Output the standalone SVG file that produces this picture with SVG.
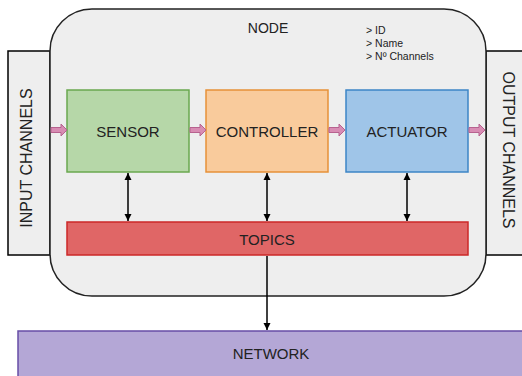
<svg xmlns="http://www.w3.org/2000/svg" width="522" height="376" viewBox="0 0 522 376">
<defs>
<marker id="ah" viewBox="0 0 10 10" refX="10" refY="5" markerWidth="7" markerHeight="8" orient="auto-start-reverse" markerUnits="userSpaceOnUse">
<path d="M0,0 L10,5 L0,10 z" fill="#000"/>
</marker>
<style>
text{font-family:"Liberation Sans",Arial,sans-serif;fill:#222;}
.lbl{font-size:15px;text-anchor:middle;dominant-baseline:central;}
.vl{font-size:16px;}
.ch{fill:#eeeeee;stroke:#000;stroke-width:1.5;}
.pk{fill:#d88cb3;stroke:#b7628f;stroke-width:1;}
.cn{stroke:#000;stroke-width:1.5;fill:none;}
.info{font-size:10.5px;}
</style>
</defs>
<rect width="522" height="376" fill="#fff"/>
<g id="input-channels">
<rect class="ch" x="8" y="51" width="42" height="204"/>
<text class="lbl vl" transform="translate(26,158) rotate(-90)">INPUT CHANNELS</text>
</g>
<g id="output-channels">
<rect class="ch" x="486" y="51" width="40" height="204"/>
<text class="lbl vl" transform="translate(508,150) rotate(90)">OUTPUT CHANNELS</text>
</g>
<g id="node">
<rect x="50" y="9" width="436" height="287" rx="42" ry="42" fill="#eeeeee" stroke="#222" stroke-width="1.5"/>
<text class="lbl" x="268" y="28" style="font-size:14px">NODE</text>
<text class="info" x="366" y="34">&gt; ID</text>
<text class="info" x="366" y="47">&gt; Name</text>
<text class="info" x="366" y="60">&gt; Nº Channels</text>
</g>
<g id="sensor">
<rect x="67" y="90" width="122" height="82" fill="#b6d7a8" stroke="#6aa84f" stroke-width="1.5"/>
<text class="lbl" x="128" y="131">SENSOR</text>
</g>
<g id="controller">
<rect x="206" y="90" width="122" height="82" fill="#f9cb9c" stroke="#e69138" stroke-width="1.5"/>
<text class="lbl" x="267" y="131">CONTROLLER</text>
</g>
<g id="actuator">
<rect x="346" y="90" width="122" height="82" fill="#9fc5e8" stroke="#3d85c6" stroke-width="1.5"/>
<text class="lbl" x="407" y="131">ACTUATOR</text>
</g>
<g id="topics">
<rect x="67" y="222" width="401" height="33" fill="#e06666" stroke="#cc2929" stroke-width="1.5"/>
<text class="lbl" x="267" y="239">TOPICS</text>
</g>
<g id="network">
<rect x="18" y="331" width="510" height="50" fill="#b4a7d6" stroke="#674ea7" stroke-width="1.5"/>
<text class="lbl" x="271" y="353">NETWORK</text>
</g>
<g id="connectors">
<path class="pk" d="M51,127.5 H61 V124 L67,130 L61,136 V132.5 H51 Z"/>
<path class="pk" d="M190,127.5 H200 V124 L206,130 L200,136 V132.5 H190 Z"/>
<path class="pk" d="M329,127.5 H339 V124 L345,130 L339,136 V132.5 H329 Z"/>
<path class="pk" d="M469,127.5 H479 V124 L485,130 L479,136 V132.5 H469 Z"/>
<line class="cn" x1="128" y1="173" x2="128" y2="221" marker-start="url(#ah)" marker-end="url(#ah)"/>
<line class="cn" x1="267" y1="173" x2="267" y2="221" marker-start="url(#ah)" marker-end="url(#ah)"/>
<line class="cn" x1="407" y1="173" x2="407" y2="221" marker-start="url(#ah)" marker-end="url(#ah)"/>
<line class="cn" x1="267" y1="256" x2="267" y2="330" marker-end="url(#ah)"/>
</g>
</svg>
